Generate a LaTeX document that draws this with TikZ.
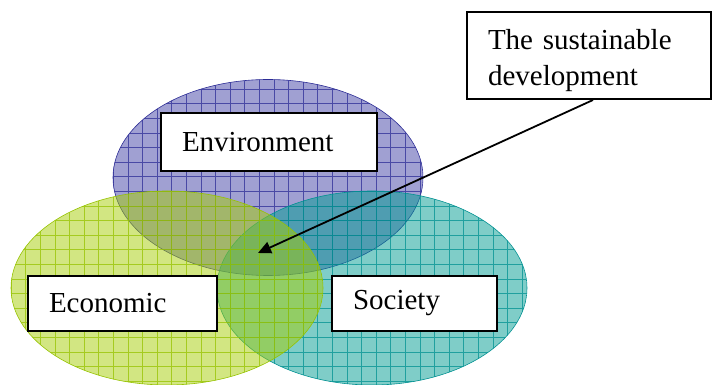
\documentclass[tikz,border=0pt]{standalone}
\usepackage{fontspec}
\setmainfont{Liberation Serif}
\usepackage{xcolor}
\usetikzlibrary{positioning,arrows.meta}

\definecolor{envfill}{RGB}{65,65,165}
\definecolor{envline}{RGB}{45,45,150}
\definecolor{ecofill}{RGB}{165,205,5}
\definecolor{ecoline}{RGB}{150,195,0}
\definecolor{socfill}{RGB}{0,155,145}
\definecolor{socline}{RGB}{0,145,145}

\begin{document}
\begin{tikzpicture}[
  x=1pt, y=1pt,
  every node/.style={font=\fontsize{29}{36}\selectfont},
  box/.style={rectangle, draw=black, line width=2pt, fill=white, align=left, inner xsep=21pt, inner ysep=0pt},
  pointer/.style={line width=1.8pt, -{Triangle[length=13pt,width=12pt]}}
]
\useasboundingbox (0,0) rectangle (712,385);

% Kreise (blau, tuerkis, gruen)
\foreach \cx/\cy/\rx/\ry/\col in {268/207.5/155/98/env, 372/97/155/97/soc, 167/97/156/97/eco} {
  \begin{scope}
    \clip (\cx,\cy) ellipse [x radius=\rx, y radius=\ry];
    \fill[\col fill, fill opacity=0.5] (\cx,\cy) ellipse [x radius=\rx, y radius=\ry];
    \draw[\col line, line width=0.8pt, draw opacity=0.75, step=14.6, shift={(11.1,3.7)}] (-30,-30) grid (730,400);
  \end{scope}
  \draw[\col line, line width=0.6pt] (\cx,\cy) ellipse [x radius=\rx, y radius=\ry];
}

% Kaesten
\node[box, text width=174pt, minimum height=58pt] (env) at (269,243) {Environment};
\node[box, text width=147pt, minimum height=55pt] (eco) at (122.5,81.5) {Economic};
\node[box, text width=123pt, minimum height=55pt] (soc) at (414.5,81.5) {Society};
\node[box, text width=202pt, minimum height=87pt] (sust) at (589,329.5) {\rule{0pt}{29.3pt}The sustainable\\development};

% Pfeil
\coordinate (core) at (258,132);
\draw[pointer] ([xshift=4pt]sust.south) -- (core);
\end{tikzpicture}
\end{document}
